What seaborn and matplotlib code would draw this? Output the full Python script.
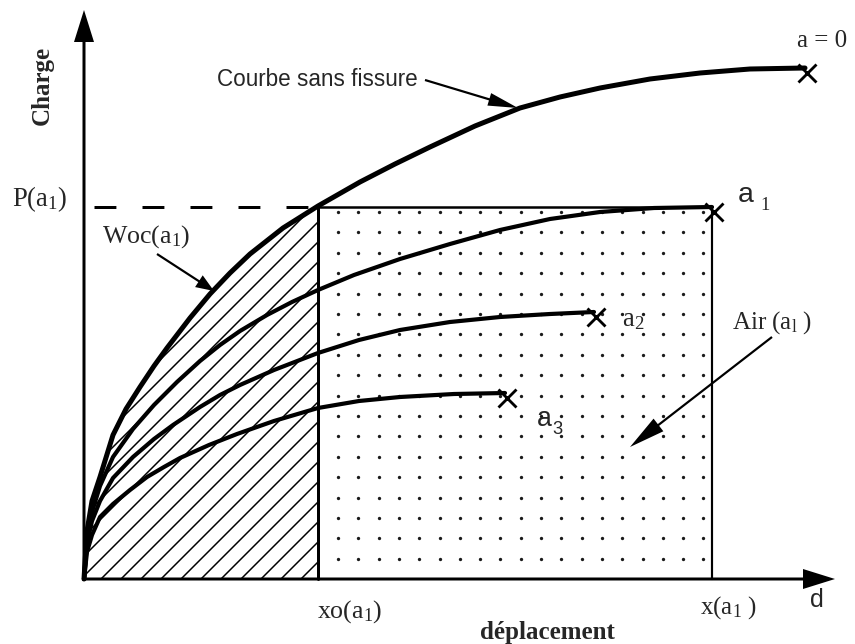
import numpy as np
import pandas as pd
import matplotlib
matplotlib.use("Agg")
import matplotlib.pyplot as plt
import seaborn as sns

# ---- data (drawing units: displacement d, load P) ----
a0_x = [0, 3, 8, 16, 29, 42, 56, 70, 83, 106, 126, 146, 166, 199, 234, 276, 311,
        346, 391, 436, 476, 516, 566, 616, 666, 721]
a0_y = [0, 48, 78, 102, 144, 170, 192, 213, 231, 261, 285, 306, 325, 351, 373, 397,
        415, 432, 453, 471, 482, 491, 500, 506, 510, 511]

a1_x = [0, 3, 8, 16, 29, 49, 70, 93, 116, 136, 156, 183, 208, 234, 270, 316, 366,
        416, 466, 516, 570, 628]
a1_y = [0, 42, 67, 93, 122, 150, 174, 197, 218, 234, 248, 264, 277, 289, 304, 320,
        335, 349, 360, 367, 371, 372]

a2_x = [0, 3, 8, 16, 29, 49, 70, 89, 116, 136, 156, 190, 234, 275, 316, 366, 416,
        466, 510]
a2_y = [0, 36, 58, 78, 101, 122, 140, 154, 172, 184, 194, 209, 226, 239, 249, 257,
        262, 265, 267]

a3_x = [0, 3, 8, 16, 29, 46, 63, 80, 96, 125, 153, 190, 234, 275, 316, 370, 421]
a3_y = [0, 27, 44, 62, 75, 89, 102, 112, 121, 134, 145, 158, 171, 178, 182, 185, 186]

xo_a1 = 234      # xo(a1)
x_a1 = 628       # x(a1)
P_a1 = 372       # P(a1)
d_max = 751      # end of displacement axis
P_max = 569      # end of load axis

curve_names = ["a = 0", "a1", "a2", "a3"]
curve_x = [a0_x, a1_x, a2_x, a3_x]
curve_y = [a0_y, a1_y, a2_y, a3_y]

# ---- style ----
sns.set_theme(style="white")
plt.rcParams["font.family"] = ["Liberation Serif", "DejaVu Serif"]
plt.rcParams["mathtext.fontset"] = "custom"
plt.rcParams["mathtext.rm"] = "Liberation Serif"
plt.rcParams["mathtext.it"] = "Liberation Serif:italic"
plt.rcParams["hatch.linewidth"] = 0.9
plt.rcParams["hatch.color"] = "black"

DPI = 120
fig = plt.figure(figsize=(855 / DPI, 644 / DPI), dpi=DPI)
ax = fig.add_axes([0, 0, 1, 1])
ax.set_xlim(-84, 771)
ax.set_ylim(-65, 579)
ax.axis("off")

K = "black"

# hatched area Woc(a1) under the uncracked curve up to xo(a1)
hx = [x for x in a0_x if x <= xo_a1]
hy = a0_y[:len(hx)]
ax.fill_between(hx, hy, 0, facecolor="none", edgecolor=K, hatch="//", lw=0, zorder=1)

# dotted area Air(a1)
gx = np.arange(xo_a1 + 20, x_a1 - 5, 20.3)
gy = np.arange(P_a1 - 5, 10, -20.4)
GX, GY = np.meshgrid(gx, gy)
ax.scatter(GX.ravel(), GY.ravel(), s=4, color="#1a1a1a", lw=0, zorder=1)

# rectangle edges
ax.plot([xo_a1, x_a1], [P_a1, P_a1], color=K, lw=1.5, zorder=2)
ax.plot([x_a1, x_a1], [0, P_a1], color=K, lw=1.3, zorder=2)
ax.plot([xo_a1, xo_a1], [0, P_a1], color=K, lw=1.8, zorder=2)
# dashed P(a1)
ax.plot([10, xo_a1], [P_a1, P_a1], color=K, lw=1.8, dashes=(7.3, 8.7), zorder=2)

# curves
widths = [3.0, 2.5, 2.5, 2.5]
for name, xs, ys, w in zip(curve_names, curve_x, curve_y, widths):
    df = pd.DataFrame({"d": xs, "P": ys})
    sns.lineplot(data=df, x="d", y="P", sort=False, estimator=None,
                 color=K, lw=w, ax=ax, zorder=3)
    ax.plot(xs[-1] + 2, ys[-1] - 5, marker="x", color=K, ms=11, mew=1.7, zorder=4)

# axes arrows
ax.arrow(0, 0, 0, P_max, width=3, head_width=20, head_length=32,
         length_includes_head=True, color=K, lw=0, zorder=5)
ax.arrow(0, 0, d_max, 0, width=3, head_width=20, head_length=32,
         length_includes_head=True, color=K, lw=0, zorder=5)

# annotation arrows
def arr(x0, y0, x1, y1, hw=13, hl=30):
    ax.arrow(x0, y0, x1 - x0, y1 - y0, width=2.2, head_width=hw, head_length=hl,
             length_includes_head=True, color=K, lw=0, zorder=6)

arr(341, 499, 434, 471)     # Courbe sans fissure
arr(73, 325, 130, 288, hw=14, hl=18)   # Woc
arr(688, 242, 546, 132, hw=16, hl=36)  # Air

# texts
ax.text(-42, 494, "Charge", rotation=90, fontsize=15, fontweight="bold",
        ha="center", va="center")
ax.text(-72, 380, r"P(a$_1$)", fontsize=16, ha="left", va="center")
ax.text(18, 342, r"Woc(a$_1$)", fontsize=15.5, ha="left", va="center")
ax.text(133, 499, "Courbe sans fissure", fontsize=13.5, family="Liberation Sans",
        ha="left", va="center")
ax.text(713, 538, "a = 0", fontsize=15, ha="left", va="center")
ax.text(654, 384, "a", fontsize=17, family="Liberation Sans", ha="left", va="center")
ax.text(676, 374, "1", fontsize=11, ha="left", va="center")
ax.text(538, 259, r"a$_2$", fontsize=16, ha="left", va="center")
ax.text(453, 160, "a", fontsize=16, family="Liberation Sans", ha="left", va="center")
ax.text(468, 150, "3", fontsize=11, family="Liberation Sans", ha="left", va="center")
ax.text(648, 256, r"Air (a$_\mathrm{l}$ )", fontsize=15, ha="left", va="center")
ax.text(233, -33, r"xo(a$_1$)", fontsize=15.5, ha="left", va="center")
ax.text(616, -29, r"x(a$_1$ )", fontsize=15, ha="left", va="center")
ax.text(726, -21, "d", fontsize=15, family="Liberation Sans", ha="left", va="center")
ax.text(463, -53, "déplacement", fontsize=15, fontweight="bold",
        ha="center", va="center")

fig.savefig("out.png", dpi=DPI, facecolor="white")
